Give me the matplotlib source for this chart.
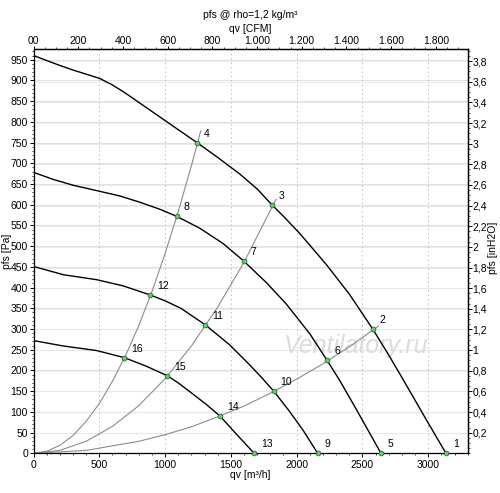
import matplotlib
matplotlib.use("Agg")
import matplotlib.pyplot as plt
from matplotlib.ticker import MultipleLocator, FixedLocator, FuncFormatter

plt.rcParams['font.family'] = ['Liberation Sans', 'DejaVu Sans']

# fan curves (qv m3/h, pfs Pa)
fan1_q = [0, 100, 200, 300, 400, 500, 600, 700, 800, 900, 1000, 1100, 1242, 1400, 1568,
          1700, 1814, 1900, 2025, 2227, 2403, 2580, 2700, 2800, 2900, 3000, 3135]
fan1_p = [960, 948, 936, 925, 915, 905, 889, 869, 847, 825, 803, 781, 750, 714, 674,
          638, 599, 572, 530, 455, 383, 299, 237, 183, 128, 73, 0]
fan2_q = [0, 150, 300, 480, 657, 808, 960, 1088, 1265, 1442, 1598, 1770, 1922, 2101,
          2232, 2327, 2450, 2641]
fan2_p = [678, 661, 647, 634, 621, 606, 589, 572, 543, 506, 464, 412, 360, 288,
          224, 176, 108, 0]
fan3_q = [0, 227, 480, 682, 889, 1000, 1120, 1306, 1490, 1641, 1742, 1826, 1944, 2050, 2160]
fan3_p = [451, 431, 419, 404, 382, 368, 350, 310, 262, 214, 180, 150, 102, 55, 0]
fan4_q = [0, 227, 480, 689, 859, 1018, 1100, 1187, 1313, 1417, 1540, 1677]
fan4_p = [272, 259, 248, 231, 210, 187, 170, 149, 118, 90, 47, 0]

# system curves (gray)
sysA_q = [0, 100, 200, 300, 400, 500, 600, 700, 800, 900, 1000, 1100, 1200, 1271]
sysA_p = [0, 5, 19, 43, 77, 120, 174, 236, 308, 390, 482, 583, 694, 778]
sysB_q = [0, 200, 400, 600, 800, 1000, 1200, 1400, 1600, 1843]
sysB_p = [0, 7, 29, 65, 115, 180, 259, 353, 461, 613]
sysC_q = [0, 400, 800, 1000, 1200, 1400, 1600, 1800, 2000, 2200, 2400, 2621]
sysC_p = [0, 7, 29, 45, 64, 88, 114, 145, 179, 216, 257, 307]

# operating points
pt_labels = ['1', '2', '3', '4', '5', '6', '7', '8', '9', '10', '11', '12', '13', '14', '15', '16']
pt_q = [3135, 2580, 1814, 1242, 2641, 2232, 1598, 1088, 2160, 1826, 1306, 889, 1677, 1417, 1018, 689]
pt_p = [0, 299, 599, 750, 0, 224, 464, 572, 0, 150, 310, 382, 0, 90, 187, 231]

pa_ticks = list(range(0, 951, 50))
inh2o_ticks = [0.2 * i for i in range(1, 20)]
cfm_ticks = [0, 200, 400, 600, 800, 1000, 1200, 1400, 1600, 1800]
cfm_labels = ['00', '200', '400', '600', '800', '1.000', '1.200', '1.400', '1.600', '1.800']

CFM = 1.699      # m3/h per CFM
INH2O = 249.089  # Pa per inH2O

fig = plt.figure(figsize=(5, 4.93), dpi=100)
ax = fig.add_axes([0.067, 0.0805, 0.8684, 0.8195])
ax.set_xlim(0, 3300)
ax.set_ylim(0, 975)

# grid
for p in pa_ticks[1:]:
    ax.axhline(p, color='#e2e2e2', lw=0.8, zorder=0)
for v in inh2o_ticks:
    ax.axhline(v * INH2O, color='#e8e8e8', lw=0.6, zorder=0)
for q in range(500, 3001, 500):
    ax.axvline(q, color='#bdbdbd', lw=0.7, ls=(0, (1.5, 3)), zorder=0)

ax.text(2450, 259, 'Ventilatory.ru', fontsize=18, style='italic', color='#dcdcdc',
        ha='center', va='center', zorder=1)

for q, p in [(sysA_q, sysA_p), (sysB_q, sysB_p), (sysC_q, sysC_p)]:
    ax.plot(q, p, color='#8c8c8c', lw=0.8, zorder=2)
for q, p in [(fan1_q, fan1_p), (fan2_q, fan2_p), (fan3_q, fan3_p), (fan4_q, fan4_p)]:
    ax.plot(q, p, color='black', lw=1.0, zorder=3)

ax.plot(pt_q, pt_p, ls='none', marker='o', ms=3.4, mfc='#62d162', mec='#2b6b2b',
        mew=0.6, zorder=5, clip_on=False)
for lab, q, p in zip(pt_labels, pt_q, pt_p):
    ax.annotate(lab, (q, p), xytext=(5, 6.5), textcoords='offset points',
                fontsize=7.5, ha='left', va='center', zorder=6)

# ticks
ax.xaxis.set_major_locator(MultipleLocator(500))
ax.xaxis.set_minor_locator(MultipleLocator(100))
ax.yaxis.set_major_locator(FixedLocator(pa_ticks))
ax.yaxis.set_minor_locator(MultipleLocator(10))
ax.tick_params(which='major', length=3, width=0.7, labelsize=7.5, pad=1)
ax.tick_params(which='minor', length=1.5, width=0.5)
ax.tick_params(axis='x', pad=1.5)

top = ax.secondary_xaxis('top', functions=(lambda x: x / CFM, lambda x: x * CFM))
top.xaxis.set_major_locator(FixedLocator(cfm_ticks))
top.xaxis.set_major_formatter(FuncFormatter(lambda v, i: cfm_labels[cfm_ticks.index(int(round(v)))]
                                            if int(round(v)) in cfm_ticks else ''))
top.xaxis.set_minor_locator(MultipleLocator(50))
top.tick_params(which='major', length=2, width=0.7, labelsize=7.5, pad=0.5)
top.tick_params(which='minor', length=1.2, width=0.5)

right = ax.secondary_yaxis('right', functions=(lambda y: y / INH2O, lambda y: y * INH2O))
right.yaxis.set_major_locator(FixedLocator(inh2o_ticks))
right.yaxis.set_major_formatter(FuncFormatter(lambda v, i: ('%g' % round(v, 1)).replace('.', ',')))
right.yaxis.set_minor_locator(MultipleLocator(0.05))
right.tick_params(which='major', length=3, width=0.7, labelsize=7.5, pad=0.5)
right.tick_params(which='minor', length=1.5, width=0.5)

for a in (ax, top, right):
    for s in a.spines.values():
        s.set_linewidth(0.9)

fig.text(0.501, 0.9696, 'pfs @ rho=1,2 kg/m³', fontsize=7.5, ha='center', va='center')
fig.text(0.501, 0.9405, 'qv [CFM]', fontsize=7.5, ha='center', va='center')
fig.text(0.501, 0.0365, 'qv [m³/h]', fontsize=7.5, ha='center', va='center')
fig.text(0.014, 0.491, 'pfs [Pa]', fontsize=7.5, ha='center', va='center', rotation=90)
fig.text(0.987, 0.498, 'pfs [inH2O]', fontsize=7.5, ha='center', va='center', rotation=90)

fig.savefig('out.png', dpi=100)
